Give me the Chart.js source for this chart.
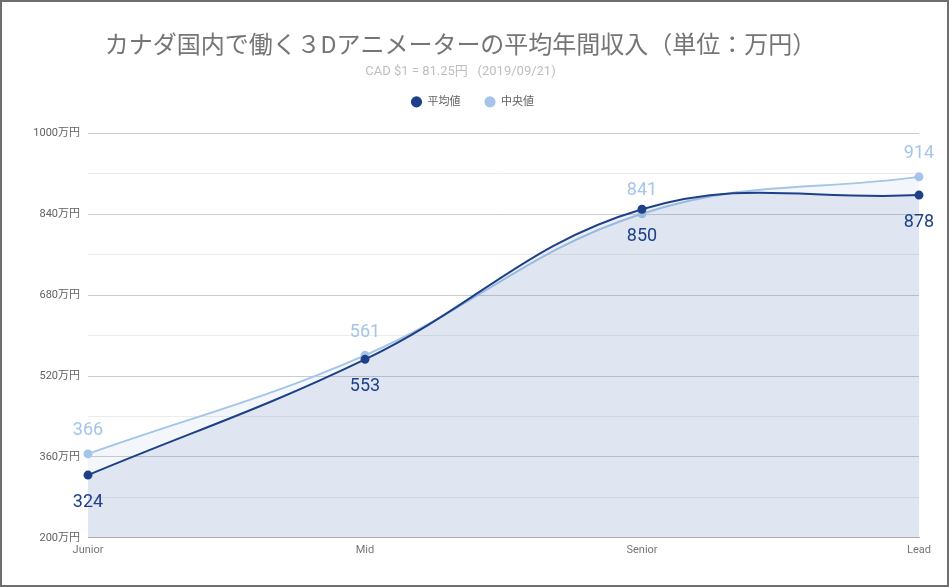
<!DOCTYPE html>
<html>
<head>
<meta charset="utf-8">
<script src="https://cdn.jsdelivr.net/npm/chart.js@4/dist/chart.umd.min.js"></script>
<style>
  html, body { margin: 0; padding: 0; background: #fff; }
  #wrap { width: 949px; height: 587px; box-sizing: border-box; border: 2px solid #6e6e6e; }
  canvas { display: block; }
</style>
</head>
<body>
<div id="wrap"><canvas id="lineChart" width="945" height="583"></canvas></div>
<script>
  // data
  const levels = ['Junior', 'Mid', 'Senior', 'Lead'];
  const averageIncome = [324, 553, 850, 878];   // 平均値
  const medianIncome = [366, 561, 841, 914];    // 中央値

  const darkBlue = '#1e4088';
  const lightBlue = '#a5c5e8';
  const font = 'Roboto, "Noto Sans CJK JP", sans-serif';

  // value labels next to each point
  const pointLabels = {
    id: 'pointLabels',
    beforeInit(chart) {
      // extra room under the legend, legend nudged right
      const legend = chart.legend;
      const fit = legend.fit;
      legend.fit = function () {
        fit.call(this);
        this.height += 16;
      };
      const draw = legend.draw;
      legend.draw = function (area) {
        this.ctx.save();
        this.ctx.translate(12, 0);
        draw.call(this, area);
        this.ctx.restore();
      };
    },
    afterDatasetsDraw(chart) {
      const ctx = chart.ctx;
      ctx.save();
      ctx.font = '18px ' + font;
      ctx.textAlign = 'center';
      ctx.textBaseline = 'middle';
      chart.data.datasets.forEach((ds, i) => {
        const meta = chart.getDatasetMeta(i);
        meta.data.forEach((pt, j) => {
          const below = i === 0;
          ctx.fillStyle = below ? darkBlue : lightBlue;
          ctx.fillText(String(ds.data[j]), pt.x, pt.y + (below ? 27 : -23));
        });
      });
      ctx.restore();
    }
  };

  const data = {
    labels: levels,
    datasets: [{
      label: '平均値',
      data: averageIncome,
      borderColor: darkBlue,
      backgroundColor: 'rgba(30, 64, 136, 0.09)',
      pointBackgroundColor: darkBlue,
      pointBorderColor: darkBlue,
      borderWidth: 2,
      pointRadius: 3.5,
      fill: 'start',
      tension: 0.4,
      order: 1
    }, {
      label: '中央値',
      data: medianIncome,
      borderColor: lightBlue,
      backgroundColor: 'rgba(165, 197, 232, 0.13)',
      pointBackgroundColor: lightBlue,
      pointBorderColor: lightBlue,
      borderWidth: 2,
      pointRadius: 3.5,
      fill: 'start',
      tension: 0.4,
      order: 2
    }]
  };

  const config = {
    type: 'line',
    data: data,
    plugins: [pointLabels],
    options: {
      responsive: false,
      animation: false,
      layout: { padding: { left: 0, right: 28, bottom: 22, top: 0 } },
      plugins: {
        title: {
          display: true,
          text: 'カナダ国内で働く３Dアニメーターの平均年間収入（単位：万円）',
          color: '#757575',
          font: { family: font, size: 24, weight: 'normal' },
          padding: { top: 31, bottom: 2 }
        },
        subtitle: {
          display: true,
          text: 'CAD $1 = 81.25円   (2019/09/21)',
          color: '#bdbdbd',
          font: { family: font, size: 13 },
          padding: { top: 0, bottom: -7 }
        },
        legend: {
          labels: {
            usePointStyle: true,
            pointStyle: 'circle',
            boxWidth: 11,
            boxHeight: 6.5,
            color: '#616161',
            font: { family: font, size: 11 },
            padding: 24
          }
        },
        tooltip: { enabled: false }
      },
      scales: {
        x: {
          offset: false,
          grid: { display: false, drawTicks: false },
          border: { color: '#b0b0b0' },
          ticks: { color: '#757575', font: { family: font, size: 11 }, padding: 6, maxRotation: 0 }
        },
        y: {
          min: 200,
          max: 1000,
          ticks: {
            stepSize: 80,
            color: '#616161',
            font: { family: font, size: 11 },
            padding: 8,
            autoSkip: false,
            callback: v => ((v - 200) % 160 === 0 ? v + '万円' : '')
          },
          grid: {
            drawTicks: false,
            color: c => ((c.tick.value - 200) % 160 === 0 ? '#cccccc' : '#ebebeb')
          },
          border: { display: false },
          afterFit: s => { s.width = 86; }
        }
      }
    }
  };

  const lineChart = new Chart(document.getElementById('lineChart'), config);
</script>
</body>
</html>
